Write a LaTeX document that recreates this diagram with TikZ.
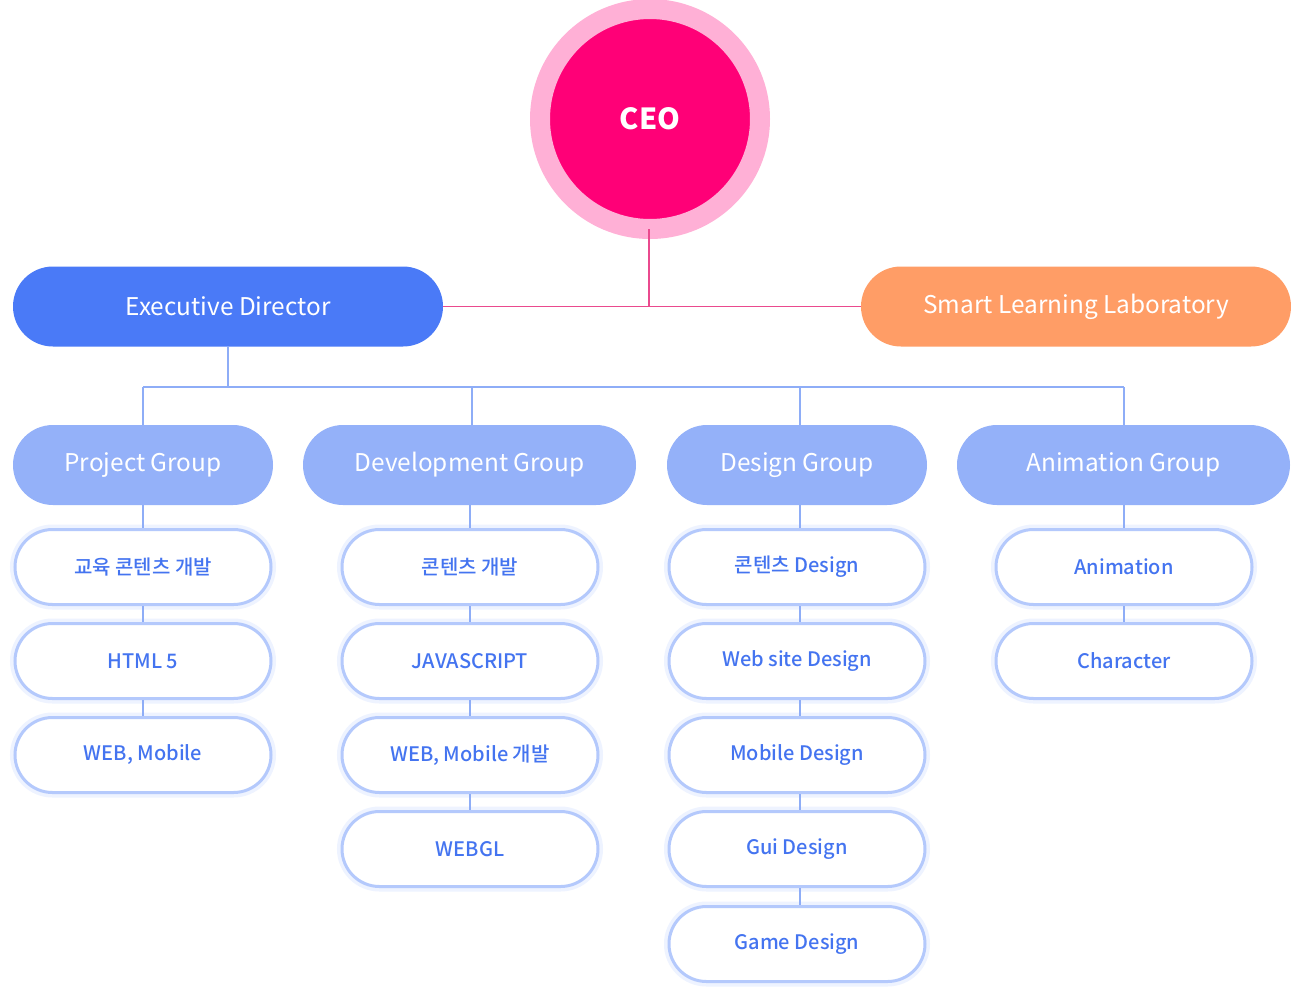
\documentclass[tikz,border=0pt]{standalone}
\usepackage{fontspec}
\setmainfont{Noto Sans CJK KR}[BoldFont=Noto Sans CJK KR Medium]
\newfontfamily\ceofont{Noto Sans CJK KR}
\usetikzlibrary{shapes.misc}
\definecolor{ceoin}{HTML}{FF0077}
\definecolor{ceoout}{HTML}{FFB0D6}
\definecolor{pinkline}{HTML}{EA4A8E}
\definecolor{edblue}{HTML}{4A7AF7}
\definecolor{sllorange}{HTML}{FF9D66}
\definecolor{grpblue}{HTML}{94B1F9}
\definecolor{bline}{HTML}{8EADF7}
\definecolor{itemborder}{HTML}{B4C9FC}
\definecolor{itemglow}{HTML}{EEF3FF}
\definecolor{itemtext}{HTML}{4474F0}
\tikzset{
  topbox/.style={rounded rectangle, minimum width=430pt, minimum height=80pt, inner sep=0pt, text=white, font=\fontsize{24.4}{30}\selectfont},
  grpbox/.style={rounded rectangle, fill=grpblue, minimum height=80pt, inner sep=0pt, text=white, font=\fontsize{24.4}{30}\selectfont},
  itembox/.style={rounded rectangle, fill=white, draw=itemborder, line width=3pt, minimum width=256pt, minimum height=75pt, inner sep=0pt, text=itemtext, font=\fontsize{20}{24}\selectfont\bfseries, preaction={draw=itemglow, line width=10pt}},
  bconn/.style={draw=bline, line width=2pt},
  pconn/.style={draw=pinkline, line width=1.5pt}
}
\begin{document}
\begin{tikzpicture}[x=1pt,y=-1pt]
\useasboundingbox (0,0) rectangle (1291,997);
\fill[white] (0,0) rectangle (1291,997);
% CEO
\node[circle, fill=ceoin, draw=ceoout, line width=20pt, minimum size=220pt, inner sep=0pt, text=white, font=\ceofont\fontsize{29}{34}\selectfont\bfseries] (ceo) at (650,119) {CEO};
% top level
\node[topbox, fill=edblue] (ed) at (228,306.5) {Executive Director};
\node[topbox, fill=sllorange] (sll) at (1076,306.5) {Smart Learning Laboratory};
\coordinate (jn) at (649,306.5);
\draw[pconn] (ed.east) -- (sll.west);
\draw[pconn] ([yshift=10pt]ceo.south -| jn) -- (jn);
% groups
\node[grpbox, minimum width=260pt] (g1) at (143,465) {Project Group};
\node[grpbox, minimum width=333pt] (g2) at (469.5,465) {Development Group};
\node[grpbox, minimum width=260pt] (g3) at (797,465) {Design Group};
\node[grpbox, minimum width=333pt] (g4) at (1123.5,465) {Animation Group};
\coordinate (bus) at (228,387);
\coordinate (t1) at (143,387);
\coordinate (t2) at (472,387);
\coordinate (t3) at (800,387);
\coordinate (t4) at (1124,387);
\draw[bconn] (ed.south) -- (bus);
\draw[bconn] (t1) -- (t4);
\draw[bconn] (t1) -- (t1 |- g1.north);
\draw[bconn] (t2) -- (t2 |- g2.north);
\draw[bconn] (t3) -- (t3 |- g3.north);
\draw[bconn] (t4) -- (t4 |- g4.north);
% column 1
\node[itembox] (a1) at (143,567) {교육 콘텐츠 개발};
\node[itembox] (a2) at (143,661) {HTML 5};
\node[itembox] (a3) at (143,755) {WEB, Mobile};
% column 2
\node[itembox] (b1) at (470,567) {콘텐츠 개발};
\node[itembox] (b2) at (470,661) {JAVASCRIPT};
\node[itembox] (b3) at (470,755) {WEB, Mobile 개발};
\node[itembox] (b4) at (470,849) {WEBGL};
% column 3
\node[itembox] (c1) at (797,567) {콘텐츠 Design};
\node[itembox] (c2) at (797,661) {Web site Design};
\node[itembox] (c3) at (797,755) {Mobile Design};
\node[itembox] (c4) at (797,849) {Gui Design};
\node[itembox] (c5) at (797,944) {Game Design};
% column 4
\node[itembox] (d1) at (1124,567) {Animation};
\node[itembox] (d2) at (1124,661) {Character};
% connectors
\draw[bconn] (g1.south) -- (a1.north);
\draw[bconn] (a1.south) -- (a2.north);
\draw[bconn] (a2.south) -- (a3.north);
\draw[bconn] (g2.south -| b1.north) -- (b1.north);
\draw[bconn] (b1.south) -- (b2.north);
\draw[bconn] (b2.south) -- (b3.north);
\draw[bconn] (b3.south) -- (b4.north);
\draw[bconn] (g3.south -| t3) -- (t3 |- c1.north);
\draw[bconn] (c1.south -| t3) -- (t3 |- c2.north);
\draw[bconn] (c2.south -| t3) -- (t3 |- c3.north);
\draw[bconn] (c3.south -| t3) -- (t3 |- c4.north);
\draw[bconn] (c4.south -| t3) -- (t3 |- c5.north);
\draw[bconn] (g4.south -| d1.north) -- (d1.north);
\draw[bconn] (d1.south) -- (d2.north);
\end{tikzpicture}
\end{document}
